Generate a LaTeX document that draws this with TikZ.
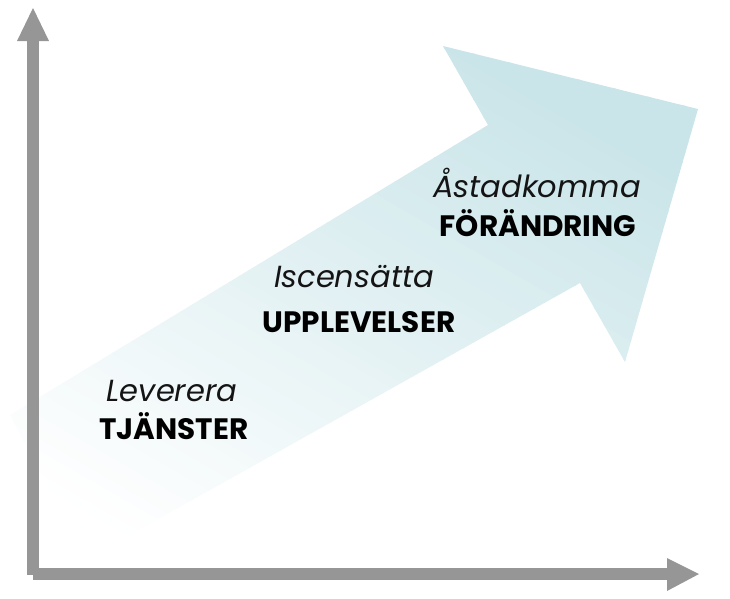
\documentclass[tikz,border=0pt]{standalone}
\usepackage{fontspec}
\setmainfont{Poppins}
\definecolor{axisgray}{RGB}{150,150,150}
\definecolor{arrowc}{RGB}{202,229,233}
\tikzset{
  axisfill/.style={fill=axisgray, draw=none},
  lbl/.style={anchor=base, inner sep=0pt, font=\fontsize{30.5}{36}\selectfont\itshape, text=black!92},
  bold/.style={anchor=base, inner sep=0pt, font=\fontsize{29.5}{34}\selectfont\bfseries, text=black}
}
\begin{document}
\begin{tikzpicture}[x=1pt,y=-1pt]
\useasboundingbox (0,0) rectangle (730,598);
% big fading arrow
\begin{scope}
\clip (10,415) -- (488,125) -- (443,46) -- (698,109) -- (625,362) -- (580,283) -- (85,560) -- cycle;
\foreach \v in {-450,-440,...,270}{
  \pgfmathsetmacro{\pct}{max(0,min(100,(\v+5+400)/585*100))}
  \fill[arrowc!\pct!white]
    ({0.5*\v+0.866*(-900)},{-0.866*\v+0.5*(-900)}) --
    ({0.5*\v+0.866*(1300)},{-0.866*\v+0.5*(1300)}) --
    ({0.5*(\v+11)+0.866*(1300)},{-0.866*(\v+11)+0.5*(1300)}) --
    ({0.5*(\v+11)+0.866*(-900)},{-0.866*(\v+11)+0.5*(-900)}) -- cycle;
}
\end{scope}
% axes
\fill[axisfill] (27,41) rectangle (39,575);
\fill[axisfill] (17,41) -- (33,8) -- (49,41) -- cycle;
\fill[axisfill] (33,568) rectangle (667,580);
\fill[axisfill] (667,558) -- (699,574) -- (667,591) -- cycle;
% labels
\node[lbl]  (lev) at (172,401) {Leverera};
\node[bold] (tja) at (174,439) {TJÄNSTER};
\node[lbl]  (isc) at (354,287) {Iscensätta};
\node[bold] (upp) at (359,332) {UPPLEVELSER};
\node[lbl]  (ast) at (537,197) {Åstadkomma};
\node[bold] (for) at (538,236) {FÖRÄNDRING};
\end{tikzpicture}
\end{document}
